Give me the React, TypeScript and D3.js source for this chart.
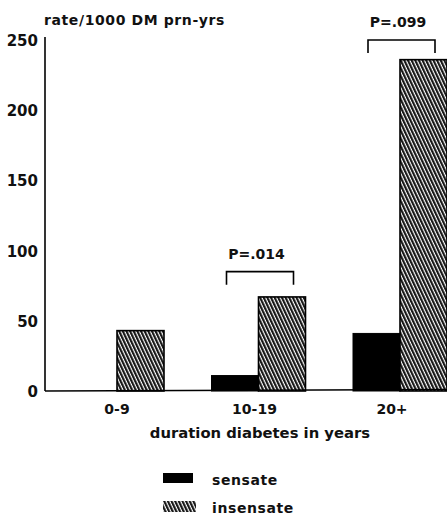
import React from "react";
import * as d3 from "d3";

const categories = ["0-9", "10-19", "20+"];
const sensate = [0, 11, 41];
const insensate = [43, 67, 236];
const yTicks = [0, 50, 100, 150, 200, 250];
const pLabels = [
  { cat: "10-19", text: "P=.014", level: 85 },
  { cat: "20+", text: "P=.099", level: 250 },
];
const legendItems = [
  { key: "sensate", label: "sensate" },
  { key: "insensate", label: "insensate" },
];

const W = 447;
const H = 522;

export default function App() {
  const y = d3.scaleLinear().domain([0, 250]).range([391, 40]);
  const x = d3.scalePoint<string>().domain(categories).range([117, 400]);
  const bw = 47;
  const font = "'DejaVu Sans', Verdana, sans-serif";

  return (
    <svg
      width={W}
      height={H}
      style={{ position: "absolute", left: 0, top: 0, background: "#fff" }}
      fontFamily={font}
      fontWeight="bold"
    >
      <defs>
        <pattern
          id="hatch"
          patternUnits="userSpaceOnUse"
          width={3.3}
          height={20}
          patternTransform="rotate(-25)"
        >
          <rect width={3.3} height={20} fill="#fff" />
          <line x1={1.1} y1={0} x2={1.1} y2={20} stroke="#111" strokeWidth={2.1} />
        </pattern>
      </defs>
      <rect width={W} height={H} fill="#fff" />

      {/* title */}
      <text x={44} y={25} fontSize={14} letterSpacing={0.6} fill="#111">
        rate/1000 DM prn-yrs
      </text>

      {/* y axis ticks */}
      {yTicks.map((t) => (
        <text key={t} x={38} y={y(t) + 6} textAnchor="end" fontSize={15} fill="#111">
          {t}
        </text>
      ))}

      {/* bars */}
      {categories.map((c, i) => (
        <g key={c}>
          {sensate[i] > 0 && (
            <rect
              x={x(c)! - bw}
              y={y(sensate[i])}
              width={bw}
              height={y(0) - y(sensate[i])}
              fill="#000"
              stroke="#000"
              strokeWidth={1}
            />
          )}
          <rect
            x={x(c)!}
            y={y(insensate[i])}
            width={bw}
            height={y(0) - y(insensate[i])}
            fill="url(#hatch)"
            stroke="#000"
            strokeWidth={1.6}
          />
        </g>
      ))}

      {/* axes */}
      <line x1={45} y1={37} x2={45} y2={y(0)} stroke="#000" strokeWidth={1.6} />
      <line x1={45} y1={y(0)} x2={W} y2={y(0) - 1.5} stroke="#000" strokeWidth={1.6} />

      {/* category labels */}
      {categories.map((c, i) => (
        <text key={c} x={x(c)! - i * 4} y={414} textAnchor="middle" fontSize={14} fill="#111">
          {c}
        </text>
      ))}
      <text x={260} y={438} textAnchor="middle" fontSize={14.8} fill="#111">
        duration diabetes in years
      </text>

      {/* P value brackets */}
      {pLabels.map((p) => {
        const cx = x(p.cat)!;
        const top = y(p.level);
        const x0 = cx - 32;
        const x1 = cx + 35;
        return (
          <g key={p.cat}>
            <path
              d={`M${x0},${top + 13}V${top}H${x1}V${top + 13}`}
              fill="none"
              stroke="#000"
              strokeWidth={1.6}
            />
            <text x={cx - 2} y={top - 13} textAnchor="middle" fontSize={14} fill="#111">
              {p.text}
            </text>
          </g>
        );
      })}

      {/* legend */}
      {legendItems.map((l, i) => (
        <g key={l.key} transform={`translate(163, ${473 + i * 28})`}>
          <rect
            width={l.key === "sensate" ? 30 : 33}
            height={l.key === "sensate" ? 10 : 11}
            fill={l.key === "sensate" ? "#000" : "url(#hatch)"}
          />
          <text x={49} y={12} fontSize={14} letterSpacing={0.6} fill="#111">
            {l.label}
          </text>
        </g>
      ))}
    </svg>
  );
}
